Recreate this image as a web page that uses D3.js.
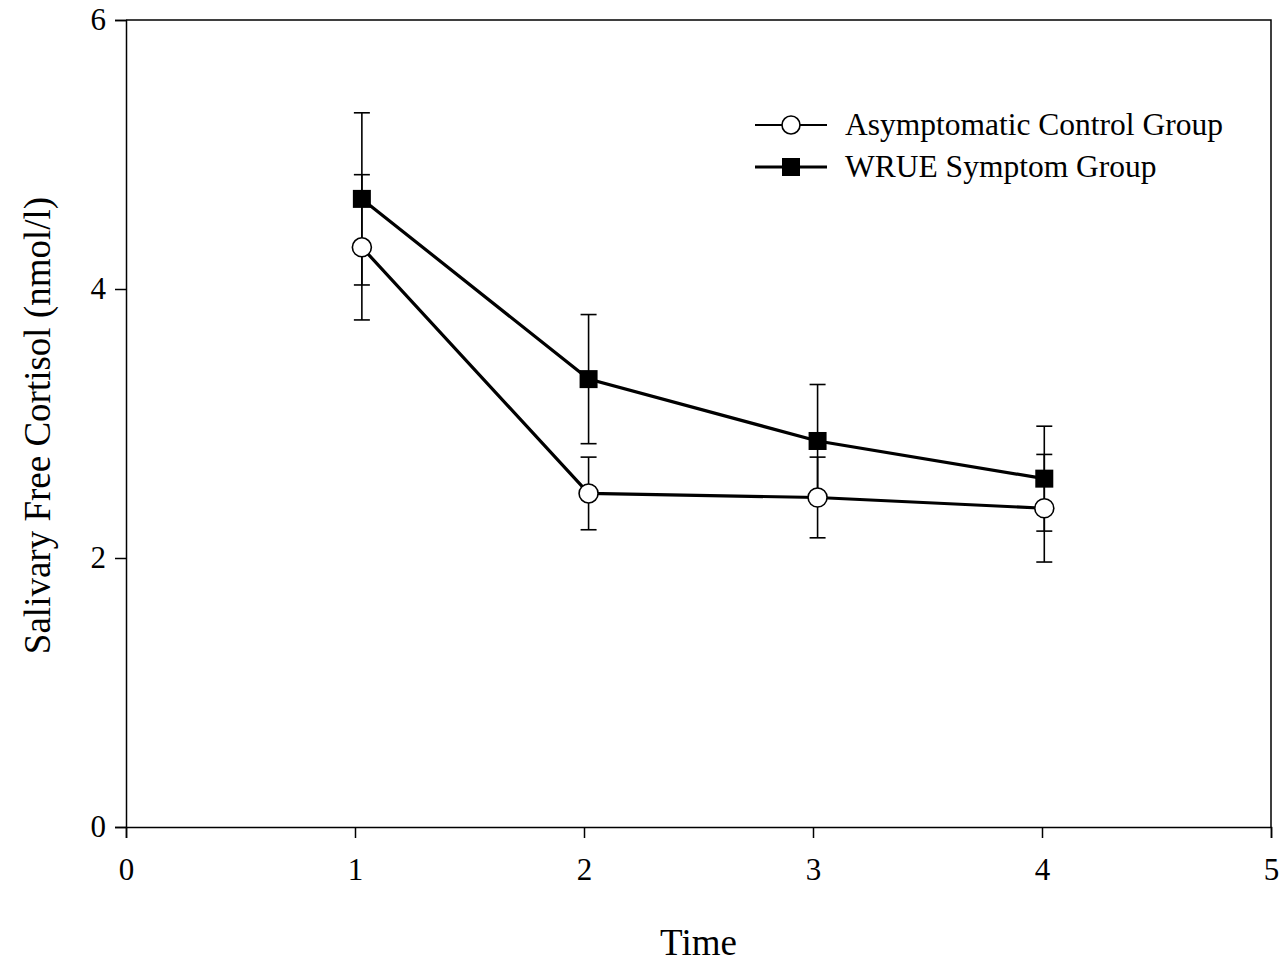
<!DOCTYPE html>
<html>
<head>
<meta charset="utf-8">
<script src="https://cdn.jsdelivr.net/npm/d3@7"></script>
<style>
    body { margin: 0; background: #fff; }
    text { font-family: "Liberation Serif", "Times New Roman", serif; fill: #000; }
</style>
</head>
<body>
<div id="chart"></div>
<script>
// values
const times = [1.03, 2.02, 3.02, 4.01];
const controlMean = [4.31, 2.48, 2.45, 2.37];
const controlErr = [0.54, 0.27, 0.30, 0.40];
const wrueMean = [4.67, 3.33, 2.87, 2.59];
const wrueErr = [0.64, 0.48, 0.42, 0.39];
const xTicks = [0, 1, 2, 3, 4, 5];
const yTicks = [0, 2, 4, 6];
const seriesNames = ['Asymptomatic Control Group', 'WRUE Symptom Group'];

const width = 1279;
const height = 965;
const margin = { top: 20, right: 8, bottom: 138, left: 126 };

const svg = d3.select('#chart')
    .append('svg')
    .attr('width', width)
    .attr('height', height);

const x = d3.scaleLinear().domain([0, 5]).range([margin.left, width - margin.right]);
const y = d3.scaleLinear().domain([0, 6]).range([height - margin.bottom, margin.top]);

// frame (top + right)
svg.append('path')
    .attr('d', `M${x(0)},${y(6)}H${x(5)}V${y(0)}`)
    .attr('fill', 'none')
    .attr('stroke', '#000')
    .attr('stroke-width', 1.5);

const xAxis = svg.append('g')
    .attr('transform', `translate(0,${y(0)})`)
    .call(d3.axisBottom(x).tickValues(xTicks).tickFormat(d3.format('d')).tickSizeOuter(0).tickSize(11).tickPadding(20));

const yAxis = svg.append('g')
    .attr('transform', `translate(${x(0)},0)`)
    .call(d3.axisLeft(y).tickValues(yTicks).tickFormat(d3.format('d')).tickSizeOuter(0).tickSize(11).tickPadding(9));

[xAxis, yAxis].forEach(g => {
    g.select('.domain').attr('stroke-width', 1.5);
    g.selectAll('.tick line').attr('stroke-width', 1.5);
    g.selectAll('.tick text')
        .style('font-family', '"Liberation Serif", serif')
        .style('font-size', '31px');
});

svg.append('text')
    .attr('x', (x(0) + x(5)) / 2)
    .attr('y', 955)
    .attr('text-anchor', 'middle')
    .style('font-size', '37px')
    .text('Time');

svg.append('text')
    .attr('transform', `translate(50,${(y(0) + y(6)) / 2 + 2}) rotate(-90)`)
    .attr('text-anchor', 'middle')
    .style('font-size', '37px')
    .text('Salivary Free Cortisol (nmol/l)');

const control = times.map((t, i) => ({ t, m: controlMean[i], e: controlErr[i] }));
const wrue = times.map((t, i) => ({ t, m: wrueMean[i], e: wrueErr[i] }));

const line = d3.line().x(d => x(d.t)).y(d => y(d.m));

function errorBars(data) {
    const g = svg.append('g').attr('stroke', '#000').attr('stroke-width', 1.6);
    data.forEach(d => {
        g.append('line')
            .attr('x1', x(d.t)).attr('x2', x(d.t))
            .attr('y1', y(d.m + d.e)).attr('y2', y(d.m - d.e));
        [d.m + d.e, d.m - d.e].forEach(v => {
            g.append('line')
                .attr('x1', x(d.t) - 8).attr('x2', x(d.t) + 8)
                .attr('y1', y(v)).attr('y2', y(v));
        });
    });
}

errorBars(control);
errorBars(wrue);

[control, wrue].forEach(data => {
    svg.append('path')
        .datum(data)
        .attr('d', line)
        .attr('fill', 'none')
        .attr('stroke', '#000')
        .attr('stroke-width', 3.2);
});

svg.append('g').selectAll('circle')
    .data(control)
    .join('circle')
    .attr('cx', d => x(d.t))
    .attr('cy', d => y(d.m))
    .attr('r', 9.5)
    .attr('fill', '#fff')
    .attr('stroke', '#000')
    .attr('stroke-width', 1.6);

svg.append('g').selectAll('rect')
    .data(wrue)
    .join('rect')
    .attr('x', d => x(d.t) - 9)
    .attr('y', d => y(d.m) - 9)
    .attr('width', 18)
    .attr('height', 18)
    .attr('fill', '#000');

// legend
const legend = svg.append('g').attr('transform', 'translate(755,125)');
seriesNames.forEach((name, i) => {
    const row = legend.append('g').attr('transform', `translate(0,${i * 42})`);
    row.append('line')
        .attr('x1', 0).attr('x2', 72)
        .attr('stroke', '#000')
        .attr('stroke-width', i === 0 ? 2 : 3.2);
    if (i === 0) {
        row.append('circle').attr('cx', 36).attr('r', 9).attr('fill', '#fff').attr('stroke', '#000').attr('stroke-width', 1.6);
    } else {
        row.append('rect').attr('x', 27).attr('y', -9).attr('width', 18).attr('height', 18).attr('fill', '#000');
    }
    row.append('text')
        .attr('x', 90)
        .attr('y', 10)
        .style('font-size', '31.5px')
        .text(name);
});
</script>
</body>
</html>
